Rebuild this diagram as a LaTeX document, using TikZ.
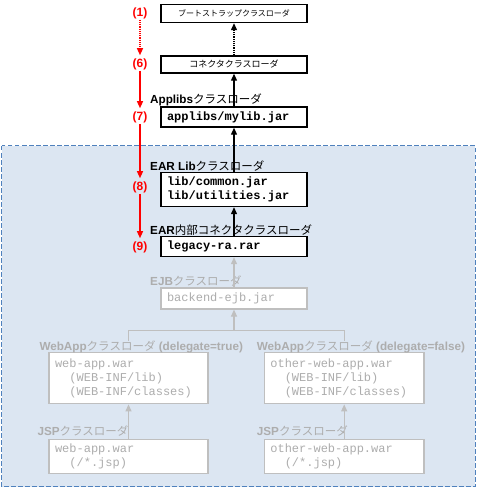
\documentclass[tikz,border=0pt]{standalone}
\usepackage{fontspec}
\setmainfont{Liberation Sans}
\newfontfamily\jp{Noto Sans CJK JP}
\newfontfamily\codefont{Liberation Mono}
\usetikzlibrary{arrows.meta}
\definecolor{areafill}{HTML}{DCE6F2}
\definecolor{areaborder}{HTML}{4F81BD}
\definecolor{gline}{HTML}{BFBFBF}
\definecolor{gtext}{HTML}{ADADAD}
\tikzset{
  bbox/.style={draw=black, line width=1.4pt, fill=white, inner xsep=6pt, inner ysep=0pt, text width=134pt},
  gbox/.style={draw=gline, line width=1.2pt, fill=white, inner xsep=6pt, inner ysep=0pt, text=gtext},
  code/.style={font=\codefont\fontsize{12}{14}\selectfont, align=left},
  jpc/.style={align=center},
  num/.style={text=red, font=\bfseries\fontsize{12}{14}\selectfont, inner sep=1pt},
  lbl/.style={anchor=base west, inner sep=0pt},
  redarr/.style={draw=red, line width=1.2pt, -{Triangle[width=6pt,length=7pt]}},
  blkarr/.style={draw=black, line width=1.2pt, -{Triangle[width=6pt,length=7pt]}},
  gryarr/.style={draw=gline, line width=1.2pt, -{Triangle[width=6pt,length=7pt]}},
  gryline/.style={draw=gline, line width=1.2pt},
}
\newcommand{\lab}[2]{{\bfseries\fontsize{11.7}{13}\selectfont #1}{\jp\fontsize{11.5}{13}\selectfont #2}}
\newcommand{\ind}{\hspace*{14.4pt}}
\begin{document}
\begin{tikzpicture}[x=1pt,y=-1pt]
\useasboundingbox (0,0) rectangle (477,489);
% container
\draw[areaborder, fill=areafill, line width=1pt, dash pattern=on 4.5pt off 2.5pt] (1.5,146) rectangle (475,486.5);

% main column boxes
\node[bbox, jpc, minimum height=18pt] (b1) at (234,13.5) {\jp\fontsize{8}{10}\selectfont ブートストラップクラスローダ};
\node[bbox, jpc, minimum height=17pt] (b6) at (234,64.5) {\jp\fontsize{9}{10}\selectfont コネクタクラスローダ};
\node[bbox, code, minimum height=20pt] (b7) at (234,117) {\bfseries applibs/mylib.jar};
\node[bbox, code, minimum height=34pt] (b8) at (234,189.5) {\bfseries lib/common.jar\\\bfseries lib/utilities.jar};
\node[bbox, code, minimum height=20pt] (b9) at (234,246.5) {\bfseries legacy-ra.rar};
\node[gbox, code, text width=134pt, minimum height=21pt] (ejb) at (234,298.5) {backend-ejb.jar};
\node[gbox, code, text width=147pt, minimum height=51pt] (wa1) at (128.5,378.3) {web-app.war\\\ind(WEB-INF/lib)\\\ind(WEB-INF/classes)};
\node[gbox, code, text width=147.7pt, minimum height=51pt] (wa2) at (344.2,378.3) {other-web-app.war\\\ind(WEB-INF/lib)\\\ind(WEB-INF/classes)};
\node[gbox, code, text width=147pt, minimum height=34pt] (jsp1) at (128.5,456.3) {web-app.war\\\ind(/*.jsp)};
\node[gbox, code, text width=147.7pt, minimum height=34pt] (jsp2) at (344.2,456.3) {other-web-app.war\\\ind(/*.jsp)};

% labels
\node[lbl] (l7) at (150,104) {\lab{Applibs}{クラスローダ}};
\node[lbl] (l8) at (150,170) {\lab{EAR Lib}{クラスローダ}};
\node[lbl] (l9) at (150,234) {\lab{EAR}{内部コネクタクラスローダ}};
\node[lbl, text=gtext] (lejb) at (150,285.5) {\lab{EJB}{クラスローダ}};
\node[lbl, text=gtext] (lwa1) at (39.3,350.5) {\lab{WebApp}{クラスローダ}\lab{ (delegate=true)}{}};
\node[lbl, text=gtext] (lwa2) at (256.7,350.5) {\lab{WebApp}{クラスローダ}\lab{ (delegate=false)}{}};
\node[lbl, text=gtext] (ljsp1) at (37.3,435.5) {\lab{JSP}{クラスローダ}};
\node[lbl, text=gtext] (ljsp2) at (256.7,435.5) {\lab{JSP}{クラスローダ}};

% red numbers
\node[num] (n1) at (140,13) {(1)};
\node[num] (n6) at (140,64) {(6)};
\node[num] (n7) at (140,117) {(7)};
\node[num] (n8) at (140,187) {(8)};
\node[num] (n9) at (140,247) {(9)};

% red arrows
\draw[redarr, densely dotted] (n1.south) -- ([yshift=2pt]n6.north);
\draw[redarr] (n6.south) -- ([yshift=2pt]n7.north);
\draw[redarr] (n7.south) -- ([yshift=2pt]n8.north);
\draw[redarr] (n8.south) -- ([yshift=2pt]n9.north);

% black arrows
\draw[blkarr, densely dotted] (b6.north) -- (b1.south);
\draw[blkarr] (b7.north) -- (b6.south);
\draw[blkarr] (b8.north) -- (b7.south);
\draw[blkarr] (b9.north) -- (b8.south);
\draw[gryarr] (ejb.north) -- (b9.south);

% grey tree
\coordinate (j1) at (128.5,330.5);
\coordinate (j2) at (344.2,330.5);
\draw[gryline] (wa1.north |- lwa1.north) -- (j1) -- (j2) -- (wa2.north |- lwa2.north);
\draw[gryarr] (j1 -| ejb) -- (ejb.south);
\draw[gryarr] (jsp1.north) -- (wa1.south);
\draw[gryarr] (jsp2.north) -- (wa2.south);
\end{tikzpicture}
\end{document}
